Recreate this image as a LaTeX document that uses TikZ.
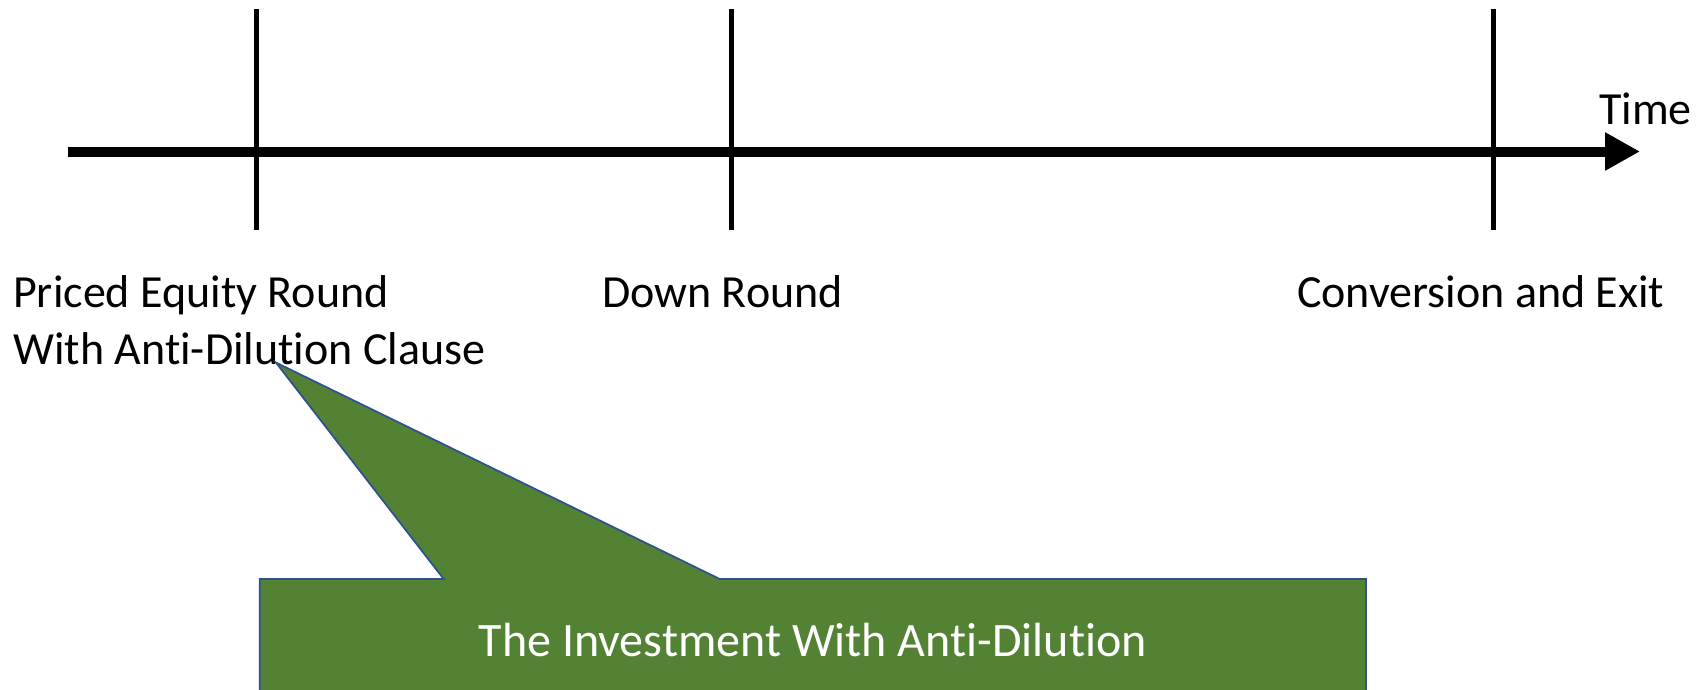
\documentclass[tikz,border=0pt]{standalone}
\usepackage{fontspec}
\setmainfont{Carlito}[Ligatures={NoCommon}]
\usetikzlibrary{arrows.meta}
\definecolor{calgreen}{HTML}{548235}
\definecolor{calblue}{HTML}{2F528F}
\tikzset{
  lbl/.style={font=\fontsize{46}{57}\selectfont, inner sep=0pt, align=left},
  tick/.style={line width=4.5pt, black},
  axis/.style={line width=10pt, black, -{Triangle[length=35pt,width=36pt]}},
  callout/.style={fill=calgreen, draw=calblue, line width=1.8pt, line join=miter},
}
\begin{document}
\begin{tikzpicture}[x=1pt,y=-1pt]
\useasboundingbox (0,0) rectangle (1697,689);
\clip (0,0) rectangle (1697,689);
% axis
\coordinate (axL) at (68,151.5);
\coordinate (axR) at (1640,151.5);
\draw[axis] (axL) -- (axR);
% ticks
\coordinate (t1a) at (256.5,9); \coordinate (t1b) at (256.5,229.5);
\coordinate (t2a) at (731.6,9); \coordinate (t2b) at (731.6,229.5);
\coordinate (t3a) at (1493.6,9); \coordinate (t3b) at (1493.6,229.5);
\draw[tick] (t1a) -- (t1b);
\draw[tick] (t2a) -- (t2b);
\draw[tick] (t3a) -- (t3b);
% labels
\node[lbl, anchor=base west] (time) at (1599,124.5) {Time};
\node[lbl, anchor=base west] (priced) at (13,364) {Priced Equity Round\\With Anti-Dilution Clause};
\node[lbl, anchor=base west] (down) at (602,307) {Down Round};
\node[lbl, anchor=base west] (conv) at (1297,307) {Conversion and Exit};
% callout
\coordinate (bTL) at (259.8,579);
\coordinate (bTR) at (1365.9,579);
\coordinate (bBR) at (1365.9,720);
\coordinate (bBL) at (259.8,720);
\coordinate (p1) at (443.7,579);
\coordinate (p2) at (719.7,579);
\coordinate (tip) at (276,362.6);
\draw[callout] (bTL) -- (p1) -- (tip) -- (p2) -- (bTR) -- (bBR) -- (bBL) -- cycle;
\node[lbl, font=\fontsize{48}{57}\selectfont, text=white, anchor=base] (inv) at (812.8,656) {The Investment With Anti-Dilution};
\end{tikzpicture}
\end{document}
